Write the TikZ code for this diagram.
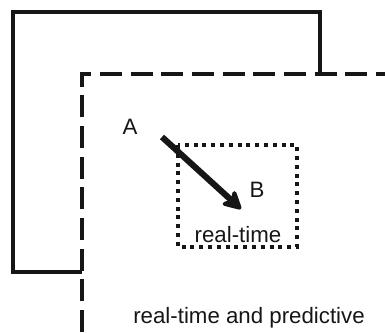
\documentclass[tikz,border=0pt]{standalone}
\usepackage{fontspec}
\setmainfont{Liberation Sans}
\usetikzlibrary{arrows.meta,positioning}
\definecolor{zoneInk}{RGB}{22,22,22}
\tikzset{
  outerzone/.style={zoneInk, line width=3pt, line join=miter},
  predzone/.style={zoneInk, line width=3pt, dash pattern=on 16.5pt off 6.5pt},
  rtzone/.style={zoneInk, line width=3pt, dash pattern=on 3pt off 3.6pt},
  zonelabel/.style={text=zoneInk, font=\fontsize{16.7}{20}\selectfont, inner sep=0pt},
  moveArrow/.style={zoneInk, line width=4.6pt, -{Stealth[length=17pt,width=18pt,inset=5pt,round]}}
}

\begin{document}
\begin{tikzpicture}[x=0.75pt,y=-0.75pt]
\useasboundingbox (0,0) rectangle (385,332);

\draw[outerzone] (82,272) -- (13,272) -- (13,12) -- (320,12) -- (320,74);
\draw[predzone] (82,332) -- (82,74) -- (385,74);
\draw[rtzone] (178,145) rectangle (297,247);

\node[zonelabel] (labA) at (130,127) {A};
\node[zonelabel] (labB) at (257,190) {B};
\node[zonelabel] (labRT) at (238,235) {real-time};
\node[zonelabel] (labRTP) at (249,318) {real-time and predictive};

\coordinate (from) at (162,137);
\coordinate (to) at (241,209);
\draw[moveArrow] (from) -- (to);
\end{tikzpicture}
\end{document}
